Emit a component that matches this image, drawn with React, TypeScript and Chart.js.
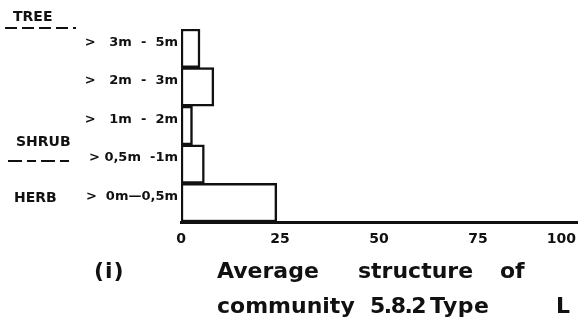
import React, { useEffect, useRef } from "react";
import { Chart, registerables } from "chart.js";

Chart.register(...registerables);

// Height classes, listed from the top of the canopy down
const heightClasses = [">   3m  -  5m", ">   2m  -  3m", ">   1m  -  2m", "> 0,5m  -1m", ">  0m—0,5m"];
// Average cover (%) in each height class
const coverValues = [4.8, 8.3, 2.9, 5.9, 24.2];
// Cover axis ticks
const coverTicks = [0, 25, 50, 75, 100];

const W = 579;
const H = 333;
const INK = "#111111";
const FONT = "'DejaVu Sans', 'Liberation Sans', sans-serif";

function word(ctx: any, text: string, x: number, y: number, spacing = 0) {
  ctx.letterSpacing = `${spacing}px`;
  ctx.fillText(text, x, y);
  ctx.letterSpacing = "0px";
}

const annotations = {
  id: "annotations",
  afterDraw(chart: any) {
    const ctx = chart.ctx as any;
    const xs = chart.scales.x;
    ctx.save();
    ctx.fillStyle = INK;
    ctx.strokeStyle = INK;

    // cover axis tick labels
    ctx.font = `bold 14px ${FONT}`;
    ctx.textBaseline = "middle";
    coverTicks.forEach((v) => {
      const px = xs.getPixelForValue(v);
      const w = ctx.measureText(String(v)).width;
      if (px + w / 2 > chart.width - 2) {
        ctx.textAlign = "right";
        ctx.fillText(String(v), chart.width - 3, 239);
      } else {
        ctx.textAlign = "center";
        ctx.fillText(String(v), px, 239);
      }
    });

    // stratum names with their dashed dividers
    ctx.textAlign = "left";
    ctx.textBaseline = "alphabetic";
    ctx.font = `bold 14px ${FONT}`;
    ctx.fillText("TREE", 13, 21);
    ctx.fillText("SHRUB", 16, 146);
    ctx.fillText("HERB", 14, 202);

    ctx.lineWidth = 2;
    ctx.setLineDash([12, 5]);
    ctx.beginPath();
    ctx.moveTo(5, 28);
    ctx.lineTo(76, 28);
    ctx.stroke();
    ctx.setLineDash([14, 5, 9, 5]);
    ctx.beginPath();
    ctx.moveTo(8, 161);
    ctx.lineTo(72, 161);
    ctx.stroke();
    ctx.setLineDash([]);

    // caption
    ctx.font = `bold 22px ${FONT}`;
    word(ctx, "(i)", 94, 278, 1);
    word(ctx, "Average", 217, 278);
    word(ctx, "structure", 358, 278);
    word(ctx, "of", 500, 278);
    word(ctx, "community", 217, 313);
    word(ctx, "5.8.2", 370, 313, -1.5);
    word(ctx, "Type", 430, 313, 0.5);
    word(ctx, "L", 556, 313);
    ctx.restore();
  },
};

export default function App() {
  const ref = useRef<HTMLCanvasElement | null>(null);

  useEffect(() => {
    if (!ref.current) return;
    const chart = new Chart(ref.current, {
      type: "bar",
      data: {
        labels: heightClasses,
        datasets: [
          {
            data: coverValues,
            backgroundColor: "#ffffff",
            borderColor: INK,
            borderWidth: 2.5,
            borderSkipped: false,
            barPercentage: 1,
            categoryPercentage: 1,
          },
        ],
      },
      options: {
        indexAxis: "y",
        responsive: false,
        animation: false,
        layout: { padding: { top: 29, right: 2, left: 0, bottom: 0 } },
        plugins: {
          legend: { display: false },
          tooltip: { enabled: false },
        },
        scales: {
          x: {
            min: 0,
            max: 100,
            ticks: { display: false },
            grid: { display: false, drawTicks: false },
            border: { display: true, color: INK, width: 3 },
            afterFit(scale: any) {
              scale.height = H - 222;
            },
          },
          y: {
            grid: { display: false, drawTicks: false },
            border: { display: false },
            ticks: {
              color: INK,
              padding: 3,
              labelOffset: -6,
              font: { family: FONT, weight: "bold", size: 13 },
            },
            afterFit(scale: any) {
              scale.width = 181;
            },
          },
        },
      },
      plugins: [annotations],
    });
    return () => chart.destroy();
  }, []);

  return (
    <div style={{ position: "absolute", left: 0, top: 0, width: W, height: H, background: "#fff" }}>
      <canvas ref={ref} width={W} height={H} />
    </div>
  );
}
